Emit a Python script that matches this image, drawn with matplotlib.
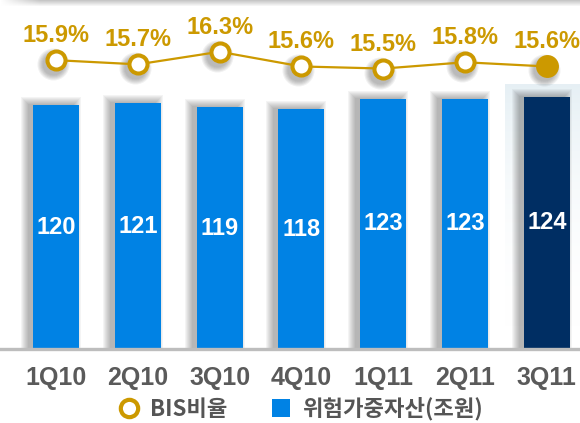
import numpy as np
import matplotlib.pyplot as plt
from matplotlib.lines import Line2D
from matplotlib.patches import Rectangle
from matplotlib.transforms import offset_copy

# quarterly data
quarters = ["1Q10", "2Q10", "3Q10", "4Q10", "1Q11", "2Q11", "3Q11"]
rwa = [120, 121, 119, 118, 123, 123, 124]          # 위험가중자산 (조원)
bis = [15.9, 15.7, 16.3, 15.6, 15.5, 15.8, 15.6]   # BIS비율 (%)

blue = "#0082E4"
navy = "#002E63"
gold = "#CC9900"
gray_txt = "#555555"
kr_font = ["Noto Sans CJK KR", "DejaVu Sans"]
num_font = ["Liberation Sans", "DejaVu Sans"]

W, H = 580, 423
fig = plt.figure(figsize=(W / 100, H / 100), dpi=100)
fig.patch.set_facecolor("white")

# soft grey band along the top edge
top = fig.add_axes([0, 1 - 7 / H, 1, 7 / H], zorder=0)
g = np.linspace(0.78, 1.0, 7)[:, None] * np.ones((1, W))
fade = np.clip(np.arange(W) / 40.0, 0, 1)[None, :]
g = 1 - (1 - g) * fade
top.imshow(np.dstack([g, g, g]), aspect="auto", extent=[0, W, 0, 7])
top.axis("off")

base_px = 349
ax = fig.add_axes([0, (H - base_px) / H, 1, base_px / H], zorder=1)
ax.patch.set_alpha(0)
x = np.arange(len(quarters))
ax.set_xlim(-0.6846, 6.406)
ax.set_ylim(0, base_px / 2.033)

# pixel -> data helpers
px_x = (6.406 + 0.6846) / W
px_y = (base_px / 2.033) / base_px

# light panel behind the latest quarter
grad = np.linspace(0, 1, 100)[:, None]
panel = np.ones((100, 1, 4))
panel[..., 0], panel[..., 1], panel[..., 2] = 0.90, 0.94, 0.96
panel[..., 3] = grad ** 2.2 * 0.95
ax.imshow(panel, aspect="auto", origin="lower",
          extent=[x[-1] - 42 * px_x, 6.406, 0, (base_px - 85) * px_y], zorder=0)

width = 46 * px_x
colors = [blue] * (len(quarters) - 1) + [navy]

# blurred shadows to the upper left of the bars
for xi, v in zip(x, rwa):
    for k in range(8):
        r = Rectangle((xi - width / 2 - (5 + k) * px_x, 0),
                      width + 2 * k * px_x, v + (1 + k) * px_y,
                      color="#333333", alpha=0.05, lw=0, zorder=1)
        ax.add_patch(r)

ax.bar(x, rwa, width=width, color=colors, zorder=2)
for xi, v in zip(x, rwa):
    ax.text(xi, v / 2, str(v), ha="center", va="center", color="white",
            fontsize=17, fontweight="bold", family=num_font, zorder=3)

ax.axhline(0, color="#BDBDBD", lw=2.4, zorder=4, clip_on=False)

ax.set_xticks(x)
ax.set_xticklabels(quarters, fontsize=18, fontweight="bold",
                   color="#5a5a5a", family=num_font)
ax.tick_params(axis="x", length=0, pad=12)
ax.set_yticks([])
for s in ax.spines.values():
    s.set_visible(False)

# BIS ratio line on its own scale
ax2 = ax.twinx()
ax2.set_ylim(2.145, 18.765)
ax2.set_yticks([])
for s in ax2.spines.values():
    s.set_visible(False)

shadow_tr = offset_copy(ax2.transData, fig=fig, x=-3, y=-4, units="dots")
for k in range(6):
    ax2.scatter(x, bis, s=(22 + 2 * k) ** 2 * 0.52, color="#444444",
                alpha=0.07, lw=0, transform=shadow_tr, zorder=1)

ax2.plot(x, bis, color=gold, lw=1.6, zorder=2)
ax2.plot(x[:-1], bis[:-1], ls="", marker="o", ms=13, mfc="white",
         mec=gold, mew=2.9, zorder=3)
ax2.plot(x[-1:], bis[-1:], ls="", marker="o", ms=16.5, mfc=gold,
         mec=gold, mew=0, zorder=3)
for xi, v in zip(x, bis):
    ax2.annotate(f"{v}%", (xi, v), xytext=(0, 13), textcoords="offset points",
                 ha="center", va="baseline", color=gold, fontsize=17,
                 fontweight="bold", family=num_font)

# legend
handles = [
    Line2D([], [], ls="", marker="o", ms=12.5, mfc="white", mec=gold, mew=3),
    Line2D([], [], ls="", marker="s", ms=13.5, mfc=blue, mec=blue, mew=0),
]
fig.legend(handles, ["BIS비율", "위험가중자산(조원)"], ncol=2, frameon=False,
           loc="center", bbox_to_anchor=(300 / W, (H - 409) / H),
           handlelength=1.0, handletextpad=0.45, columnspacing=1.9,
           prop={"family": kr_font, "weight": "bold", "size": 16},
           labelcolor=gray_txt, borderpad=0)

fig.savefig("out.png", dpi=100)
